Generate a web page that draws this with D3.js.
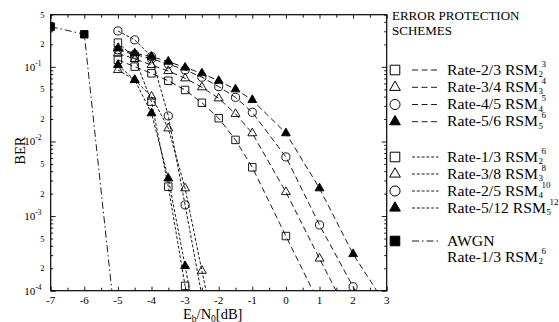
<!DOCTYPE html>
<html>
<head>
<meta charset="utf-8">
<script src="https://cdn.jsdelivr.net/npm/d3@7/dist/d3.min.js"></script>
<style>
  html, body { margin: 0; padding: 0; background: #fff; }
  svg { display: block; font-family: "Liberation Serif", "Times New Roman", serif; }
</style>
</head>
<body>
<svg id="chart" width="559" height="322"></svg>
<script>
// Eb/N0 grids (dB)
const ebn0High = [-5, -4.5, -4, -3.5, -3, -2.5, -2, -1.5, -1, 0, 1, 2, 3];
const ebn0Low  = [-5, -4.5, -4, -3.5, -3, -2.5, -2];
const ebn0Awgn = [-7, -6, -5];

// High-rate schemes (BER)
const berRate23 = [0.124, 0.1007, 0.082, 0.065, 0.049, 0.033, 0.0205, 0.0105, 0.0045, 5.4e-4, 6.6e-5, null, null];
const berRate34 = [0.152, 0.128, 0.106, 0.088, 0.0703, 0.0533, 0.0379, 0.0234, 0.0129, 2.1e-3, 2.7e-4, 3.6e-5, null];
const berRate45 = [0.169, 0.147, 0.128, 0.109, 0.091, 0.0726, 0.0543, 0.039, 0.0246, 6.2e-3, 7.6e-4, 1.13e-4, 1.7e-5];
const berRate56 = [0.177, 0.152, 0.137, 0.1175, 0.098, 0.082, 0.065, 0.050, 0.036, 0.0129, 2.36e-3, 3.1e-4, 6.2e-5];

// Low-rate schemes (BER)
const berRate13  = [0.211, 0.1315, 0.0342, 2.48e-3, 1.16e-4, 8e-6, null];
const berRate38  = [0.0908, 0.0667, 0.040, 0.0150, 2.36e-3, 1.85e-4, 1.5e-5];
const berRate25  = [0.303, 0.230, 0.137, 0.022, 1.41e-3, 8.5e-5, null];
const berRate512 = [0.106, 0.0667, 0.0239, 3.2e-3, 2.14e-4, 1.4e-5, null];

// AWGN reference
const berAwgn = [0.346, 0.273, 1.76e-5];

// Axis ticks
const xTickLabels = [-7, -6, -5, -4, -3, -2, -1, 0, 1, 2, 3];
const yLabelTicks = [
  {v: 0.5, t: "5"}, {v: 0.2, t: "2"}, {v: 0.1, t: "10", e: "-1"},
  {v: 0.05, t: "5"}, {v: 0.02, t: "2"}, {v: 0.01, t: "10", e: "-2"},
  {v: 0.005, t: "5"}, {v: 0.002, t: "2"}, {v: 0.001, t: "10", e: "-3"},
  {v: 0.0005, t: "5"}, {v: 0.0002, t: "2"}, {v: 0.0001, t: "10", e: "-4"}
];

const series = [
  {x: ebn0High, y: berRate23, shape: "square",   filled: false, dash: "6,3.5", name: "Rate-2/3 RSM", sub: "2", sup: "3"},
  {x: ebn0High, y: berRate34, shape: "triangle", filled: false, dash: "6,3.5", name: "Rate-3/4 RSM", sub: "3", sup: "4"},
  {x: ebn0High, y: berRate45, shape: "circle",   filled: false, dash: "6,3.5", name: "Rate-4/5 RSM", sub: "4", sup: "5"},
  {x: ebn0High, y: berRate56, shape: "triangle", filled: true,  dash: "6,3.5", name: "Rate-5/6 RSM", sub: "5", sup: "6"},
  {x: ebn0Low,  y: berRate13,  shape: "square",   filled: false, dash: "3,1.8", name: "Rate-1/3 RSM",  sub: "2", sup: "6"},
  {x: ebn0Low,  y: berRate38,  shape: "triangle", filled: false, dash: "3,1.8", name: "Rate-3/8 RSM",  sub: "3", sup: "8"},
  {x: ebn0Low,  y: berRate25,  shape: "circle",   filled: false, dash: "3,1.8", name: "Rate-2/5 RSM",  sub: "4", sup: "10"},
  {x: ebn0Low,  y: berRate512, shape: "triangle", filled: true,  dash: "3,1.8", name: "Rate-5/12 RSM", sub: "5", sup: "12"},
  {x: ebn0Awgn, y: berAwgn, shape: "square", filled: true, dash: "7,3,1.5,3", name: "AWGN"}
];

const svg = d3.select("#chart");
const plot = {left: 50.7, right: 386.7, top: 14.7, bottom: 290.7};

const x = d3.scaleLinear().domain([-7, 3]).range([plot.left, plot.right]);
const y = d3.scaleLog().domain([1e-4, 0.5]).range([plot.bottom, plot.top]);

svg.append("clipPath").attr("id", "plotClip")
  .append("rect")
  .attr("x", plot.left).attr("y", plot.top)
  .attr("width", plot.right - plot.left).attr("height", plot.bottom - plot.top);

// Tick sets
const xMajor = d3.range(-7, 3.01, 1);
const xMinor = d3.range(-6.5, 3, 1);
const yMajor = [1e-4, 1e-3, 1e-2, 1e-1];
const yMinor = [];
for (let e = -4; e <= -1; e++) for (let m = 2; m <= 9; m++) {
  const v = m * Math.pow(10, e);
  if (v <= 0.5 + 1e-12) yMinor.push(v);
}

function axis(gen, scale, values, size, transform) {
  const g = svg.append("g").attr("transform", transform)
    .call(gen(scale).tickValues(values).tickSize(-size).tickFormat(""));
  g.select(".domain").remove();
  g.selectAll(".tick line").attr("stroke", "#000").attr("stroke-width", 0.9);
  return g;
}
axis(d3.axisBottom, x, xMajor, 4, `translate(0,${plot.bottom})`);
axis(d3.axisBottom, x, xMinor, 3, `translate(0,${plot.bottom})`);
axis(d3.axisTop, x, xMajor, 4, `translate(0,${plot.top})`);
axis(d3.axisTop, x, xMinor, 3, `translate(0,${plot.top})`);
axis(d3.axisLeft, y, yMajor, 5, `translate(${plot.left},0)`);
axis(d3.axisLeft, y, yMinor, 2.5, `translate(${plot.left},0)`);
axis(d3.axisRight, y, yMajor, 5, `translate(${plot.right},0)`);
axis(d3.axisRight, y, yMinor, 2.5, `translate(${plot.right},0)`);

// Frame
svg.append("rect")
  .attr("x", plot.left).attr("y", plot.top)
  .attr("width", plot.right - plot.left).attr("height", plot.bottom - plot.top)
  .attr("fill", "none").attr("stroke", "#000").attr("stroke-width", 1.2);

// X tick labels
svg.append("g").selectAll("text").data(xTickLabels).join("text")
  .attr("x", d => x(d)).attr("y", plot.bottom + 13.5)
  .attr("text-anchor", "middle").attr("font-size", 11)
  .text(d => String(d));

// Y tick labels
const yl = svg.append("g").selectAll("text").data(yLabelTicks).join("text")
  .attr("text-anchor", "end")
  .attr("y", d => y(d.v) + (d.e ? 4 : 3));
yl.each(function(d) {
  const t = d3.select(this);
  if (d.e) {
    t.attr("x", 41.5);
    t.append("tspan").attr("font-size", 11).text(d.t);
    t.append("tspan").attr("font-size", 7.5).attr("dy", -5).text(d.e);
  } else {
    t.attr("x", 44.5).attr("font-size", 8.5).text(d.t);
  }
});

// Axis titles
svg.append("text")
  .attr("transform", `translate(24.5,${(plot.top + plot.bottom) / 2 - 2}) rotate(-90)`)
  .attr("text-anchor", "middle").attr("font-size", 14.5)
  .text("BER");

const xt = svg.append("text").attr("x", 183).attr("y", 318.5).attr("font-size", 14.5);
xt.append("tspan").text("E");
xt.append("tspan").attr("font-size", 9.5).attr("dy", 3).text("b");
xt.append("tspan").attr("dy", -3).text("/N");
xt.append("tspan").attr("font-size", 9.5).attr("dy", 3).text("0");
xt.append("tspan").attr("dy", -3).text("[dB]");

// Marker symbols
const symbolType = {square: d3.symbolSquare, circle: d3.symbolCircle, triangle: d3.symbolTriangle};
const plotArea = {square: 56, circle: 52, triangle: 34};
const legendArea = {square: 92, circle: 80, triangle: 50};

const line = d3.line()
  .defined(d => d.v != null)
  .x(d => x(d.e))
  .y(d => y(d.v));

const curves = svg.append("g").attr("clip-path", "url(#plotClip)");
series.forEach(s => {
  const pts = s.x.map((e, i) => ({e, v: s.y[i]}));
  curves.append("path")
    .attr("d", line(pts))
    .attr("fill", "none").attr("stroke", "#000")
    .attr("stroke-width", 0.9).attr("stroke-dasharray", s.dash);
  const inRange = pts.filter(p => p.v != null && p.v >= 1e-4);
  curves.selectAll(null).data(inRange).join("path")
    .attr("transform", p => `translate(${x(p.e)},${y(p.v)})`)
    .attr("d", d3.symbol().type(symbolType[s.shape]).size(plotArea[s.shape]))
    .attr("fill", s.filled ? "#000" : "none")
    .attr("stroke", "#000").attr("stroke-width", 0.9);
});

// Legend
const lg = svg.append("g");
lg.append("text").attr("x", 392).attr("y", 19.5).attr("font-size", 13).text("ERROR PROTECTION");
lg.append("text").attr("x", 392).attr("y", 35).attr("font-size", 13).text("SCHEMES");

// Legend entry labels are drawn slightly wide, as in the original typesetting
function wideText(xp, yp, str) {
  const t = lg.append("text").attr("x", xp).attr("y", yp).attr("font-size", 14).text(str);
  const w = t.node().getComputedTextLength() * 1.12;
  t.attr("textLength", w).attr("lengthAdjust", "spacingAndGlyphs");
  return w;
}

const legendRows = [70, 87.3, 104.5, 121.7, 157, 174, 191, 208, 241];
series.forEach((s, i) => {
  const cy = legendRows[i];
  lg.append("path")
    .attr("transform", `translate(395,${cy})`)
    .attr("d", d3.symbol().type(symbolType[s.shape]).size(legendArea[s.shape]))
    .attr("fill", s.filled ? "#000" : "none")
    .attr("stroke", "#000").attr("stroke-width", 1);
  lg.append("line")
    .attr("x1", 412).attr("x2", 438.5).attr("y1", cy).attr("y2", cy)
    .attr("stroke", "#000").attr("stroke-width", 0.9)
    .attr("stroke-dasharray", s.dash);
  const w = wideText(447, cy + 4.5, s.name);
  if (s.sub) {
    lg.append("text").attr("x", 447 + w + 0.5).attr("y", cy + 7)
      .attr("font-size", 9).text(s.sub);
    lg.append("text").attr("x", 447 + w + 3.5).attr("y", cy - 3.5)
      .attr("font-size", 9).text(s.sup);
  }
});

// Second line of the AWGN entry
const wn = wideText(447, 261.5, "Rate-1/3 RSM");
lg.append("text").attr("x", 447 + wn + 0.5).attr("y", 264).attr("font-size", 9).text("2");
lg.append("text").attr("x", 447 + wn + 3.5).attr("y", 253.5).attr("font-size", 9).text("6");
</script>
</body>
</html>
